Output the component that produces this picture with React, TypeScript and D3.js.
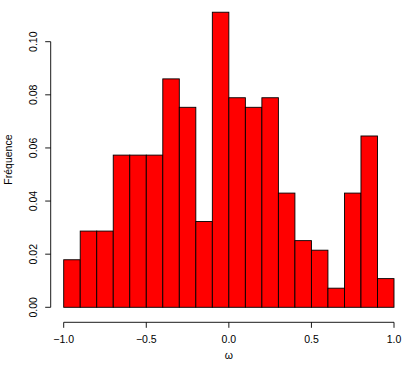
import React from "react";
import { scaleLinear, range } from "d3";

// histogram bins (breaks every 0.1 from -1 to 1) and their relative frequencies
const breaks = range(-1, 1.0001, 0.1).map((d) => Math.round(d * 10) / 10);
const freq = [
  0.0179, 0.0287, 0.0287, 0.0573, 0.0573, 0.0573, 0.086, 0.0753, 0.0323, 0.1111,
  0.0789, 0.0753, 0.0789, 0.043, 0.0251, 0.0215, 0.0072, 0.043, 0.0645, 0.0108,
];
const xTicks = [-1.0, -0.5, 0.0, 0.5, 1.0];
const yTicks = [0, 0.02, 0.04, 0.06, 0.08, 0.1];

const W = 407;
const H = 373;
const font = "'Liberation Sans', Arial, sans-serif";

export default function App() {
  const x = scaleLinear().domain([-1, 1]).range([63.7, 394]);
  const y = scaleLinear().domain([0, 0.1]).range([307.3, 41.7]);
  const axisY = 322.3; // x axis sits below the bars
  const axisX = 50.7; // y axis left of the bars
  const tick = 5.5;

  return (
    <svg
      width={W}
      height={H}
      style={{ position: "absolute", left: 0, top: 0, background: "white" }}
    >
      {freq.map((f, i) => (
        <rect
          key={i}
          x={x(breaks[i])}
          y={y(f)}
          width={x(breaks[i + 1]) - x(breaks[i])}
          height={y(0) - y(f)}
          fill="#ff0000"
          stroke="#000"
          strokeWidth={0.9}
        />
      ))}

      {/* x axis */}
      <line x1={x(-1)} x2={x(1)} y1={axisY} y2={axisY} stroke="#000" strokeWidth={0.9} />
      {xTicks.map((t) => (
        <g key={t} transform={`translate(${x(t)}, ${axisY})`}>
          <line y2={tick} stroke="#000" strokeWidth={0.9} />
          <text
            y={21}
            textAnchor="middle"
            fontSize={10.5}
            fontFamily={font}
            fill="#000"
          >
            {t < 0 ? "\u2212" + Math.abs(t).toFixed(1) : t.toFixed(1)}
          </text>
        </g>
      ))}
      <text
        x={228.8}
        y={359}
        textAnchor="middle"
        fontSize={10.5}
        fontFamily={font}
      >
        ω
      </text>

      {/* y axis */}
      <line x1={axisX} x2={axisX} y1={y(0)} y2={y(0.1)} stroke="#000" strokeWidth={0.9} />
      {yTicks.map((t) => (
        <g key={t} transform={`translate(${axisX}, ${y(t)})`}>
          <line x2={-tick} stroke="#000" strokeWidth={0.9} />
          <text
            transform="rotate(-90)"
            x={0}
            y={-13.5}
            textAnchor="middle"
            fontSize={10.5}
            fontFamily={font}
          >
            {t.toFixed(2)}
          </text>
        </g>
      ))}
      <text
        transform={`translate(12, 159.6) rotate(-90)`}
        textAnchor="middle"
        fontSize={10.5}
        fontFamily={font}
      >
        Fréquence
      </text>
    </svg>
  );
}
